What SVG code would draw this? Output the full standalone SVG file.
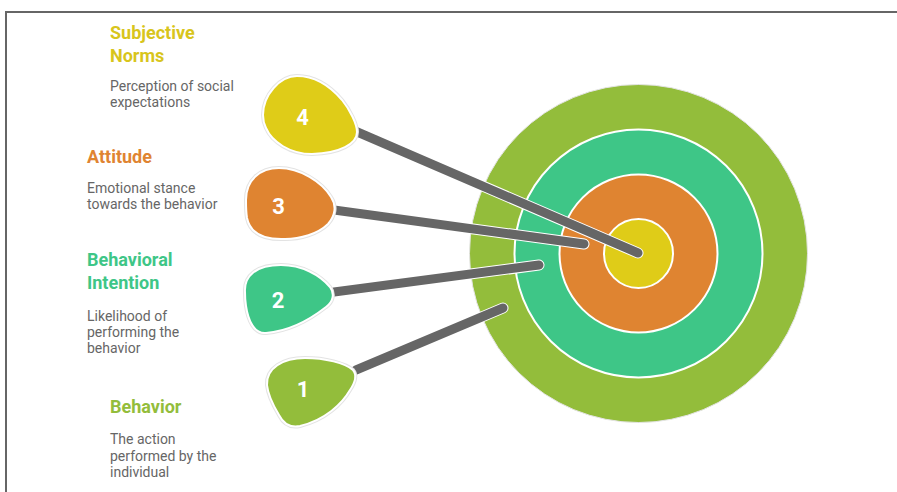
<svg xmlns="http://www.w3.org/2000/svg" xmlns:xlink="http://www.w3.org/1999/xlink" width="897" height="492" viewBox="0 0 897 492">
  <style>
    .head { font-family: Roboto, "Liberation Sans", sans-serif; font-weight: 700; font-size: 18px; }
    .desc { font-family: Roboto, "Liberation Sans", sans-serif; font-size: 14px; fill: #666666; }
    .num { font-family: Roboto, "Liberation Sans", sans-serif; font-weight: 700; font-size: 22px; fill: #ffffff; text-anchor: middle; }
    .ring { stroke: #ffffff; stroke-width: 2; }
    .shaft-edge { stroke: #ffffff; stroke-width: 11; stroke-linecap: round; fill: none; }
    .shaft { stroke: #666666; stroke-width: 9; stroke-linecap: round; fill: none; }
    .pick-halo { fill: none; stroke: #e3e3e3; stroke-width: 4; }
    .pick { stroke: #ffffff; stroke-width: 2; }
  </style>
  <defs>
    <path id="pick4" d="M263,115 C263,95 280,76 297,76 C315,76 330,86 342,100 C350,110 357,124 357,132 C357,144 340,153 312,154 C290,154 272,142 266,128 C264,124 263,119 263,115 Z"/>
    <path id="pick3" d="M246,200 C246,180 260,168 279,168 C300,168 322,182 331,197 C337,206 335,216 328,224 C318,234 300,239 285,239 C262,240 250,232 247,218 C246,212 246,206 246,200 Z"/>
    <path id="pick2" d="M245,292 C244,276 256,265 281,265 C302,265 320,275 330,287 C335,294 333,302 326,307 C312,318 290,331 266,333 C254,334 248,320 246,306 C245,300 245,296 245,292 Z"/>
    <path id="pick1" d="M267,385 C266,368 283,358 305,358 C325,358 345,363 353,370 C358,376 354,384 350,390 C342,404 325,420 300,426 C290,428 283,423 279,415 C273,405 268,395 267,385 Z"/>
  </defs>

  <rect width="897" height="492" fill="#ffffff"/>
  <!-- frame -->
  <path d="M6,494 V12 H899" fill="none" stroke="#666666" stroke-width="2"/>

  <!-- target -->
  <g id="target">
    <circle cx="638.5" cy="253.5" r="169" fill="#93bd3b" stroke="#e4e4e4" stroke-width="1"/>
    <circle class="ring" cx="638.5" cy="253.5" r="124" fill="#3ec687"/>
    <circle class="ring" cx="638.5" cy="253.5" r="79" fill="#df8431"/>
    <circle class="ring" cx="638.5" cy="253.5" r="34.5" fill="#dfcc18"/>
  </g>

  <!-- darts -->
  <g id="connectors">
    <line class="shaft-edge" x1="356" y1="370" x2="503" y2="308"/>
    <line class="shaft" x1="356" y1="370" x2="503" y2="308"/>
    <line class="shaft-edge" x1="334" y1="292" x2="539" y2="265"/>
    <line class="shaft" x1="334" y1="292" x2="539" y2="265"/>
    <line class="shaft-edge" x1="334" y1="210" x2="584" y2="244"/>
    <line class="shaft" x1="334" y1="210" x2="584" y2="244"/>
    <line class="shaft-edge" x1="355" y1="131" x2="638" y2="253"/>
    <line class="shaft" x1="355" y1="131" x2="638" y2="253"/>
  </g>

  <g id="subjective-norms">
    <use xlink:href="#pick4" class="pick-halo"/>
    <use xlink:href="#pick4" class="pick" fill="#dfcc18"/>
    <text class="num" x="302.5" y="124.5">4</text>
    <text class="head" fill="#d8c51c"><tspan x="110" y="39">Subjective</tspan><tspan x="110" y="62">Norms</tspan></text>
    <text class="desc"><tspan x="110" y="91">Perception of social</tspan><tspan x="110" y="107">expectations</tspan></text>
  </g>

  <g id="attitude">
    <use xlink:href="#pick3" class="pick-halo"/>
    <use xlink:href="#pick3" class="pick" fill="#df8431"/>
    <text class="num" x="278.5" y="214">3</text>
    <text class="head" fill="#df8431"><tspan x="87" y="163">Attitude</tspan></text>
    <text class="desc"><tspan x="87" y="193">Emotional stance</tspan><tspan x="87" y="209">towards the behavior</tspan></text>
  </g>

  <g id="behavioral-intention">
    <use xlink:href="#pick2" class="pick-halo"/>
    <use xlink:href="#pick2" class="pick" fill="#3ec687"/>
    <text class="num" x="278" y="308">2</text>
    <text class="head" fill="#3ec687"><tspan x="87" y="266">Behavioral</tspan><tspan x="87" y="288.5">Intention</tspan></text>
    <text class="desc"><tspan x="87" y="321">Likelihood of</tspan><tspan x="87" y="337">performing the</tspan><tspan x="87" y="353">behavior</tspan></text>
  </g>

  <g id="behavior">
    <use xlink:href="#pick1" class="pick-halo"/>
    <use xlink:href="#pick1" class="pick" fill="#93bd3b"/>
    <text class="num" x="303" y="397">1</text>
    <text class="head" fill="#93bd3b"><tspan x="110" y="412.5">Behavior</tspan></text>
    <text class="desc"><tspan x="110" y="444">The action</tspan><tspan x="110" y="460.5">performed by the</tspan><tspan x="110" y="477">individual</tspan></text>
  </g>
</svg>
